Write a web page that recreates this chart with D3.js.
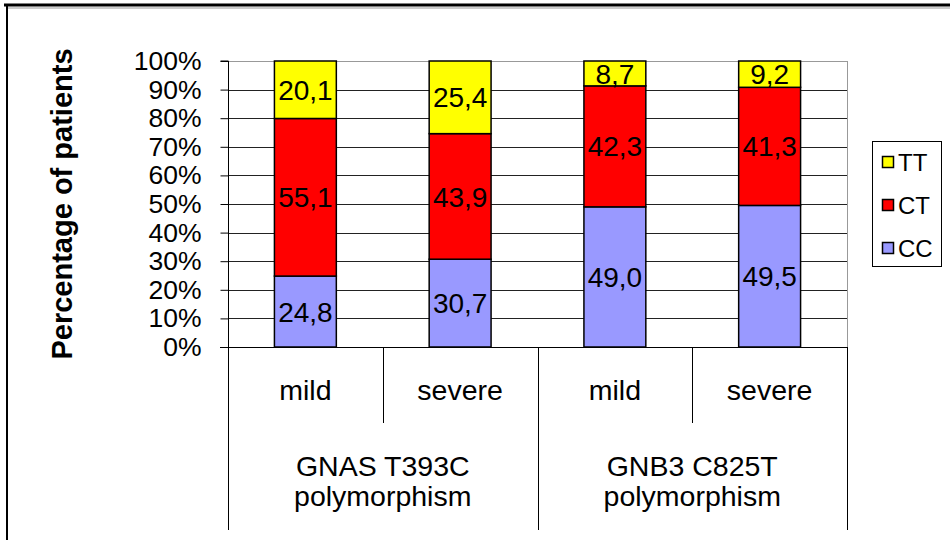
<!DOCTYPE html>
<html>
<head>
<meta charset="utf-8">
<script src="https://cdn.jsdelivr.net/npm/d3@7"></script>
<style>
  html, body { margin: 0; padding: 0; background: #fff; }
  svg { display: block; }
  text { font-family: "Liberation Sans", Arial, sans-serif; fill: #000; }
</style>
</head>
<body>
<svg id="chart" width="950" height="540"></svg>
<script>
// ---- Data ----
const categories = ["GNAS mild", "GNAS severe", "GNB3 mild", "GNB3 severe"];
const subLabels = ["mild", "severe", "mild", "severe"];
const groups = [["GNAS T393C", "polymorphism"], ["GNB3 C825T", "polymorphism"]];
const seriesNames = ["CC", "CT", "TT"];
const ccValues = [24.8, 30.7, 49.0, 49.5];
const ctValues = [55.1, 43.9, 42.3, 41.3];
const ttValues = [20.1, 25.4, 8.7, 9.2];
const yTicks = [0, 10, 20, 30, 40, 50, 60, 70, 80, 90, 100];
const colors = { CC: "#9999FF", CT: "#FF0000", TT: "#FFFF00" };

const table = categories.map((c, i) => ({ cat: c, CC: ccValues[i], CT: ctValues[i], TT: ttValues[i] }));

const svg = d3.select("#chart");
const L = 228, R = 847, T = 61, B = 347;

// frame
svg.append("line").attr("x1", 4).attr("x2", 950).attr("y1", 5).attr("y2", 5).attr("stroke", "#000").attr("stroke-width", 3);
svg.append("line").attr("x1", 7).attr("x2", 950).attr("y1", 8).attr("y2", 8).attr("stroke", "#999").attr("stroke-width", 1);
svg.append("line").attr("x1", 7).attr("x2", 7).attr("y1", 5).attr("y2", 540).attr("stroke", "#000").attr("stroke-width", 2);

const x = d3.scaleBand().domain(categories).range([L, R]).paddingInner(0.6).paddingOuter(0.3);
const y = d3.scaleLinear().domain([0, 100]).range([B, T]);

// gridlines
svg.append("g").selectAll("line").data(yTicks.filter(t => t > 0 && t < 100)).join("line")
  .attr("x1", L).attr("x2", R).attr("y1", d => Math.round(y(d)) + 0.5).attr("y2", d => Math.round(y(d)) + 0.5)
  .attr("stroke", "#222").attr("stroke-width", 1);
// plot area border (top/right)
svg.append("line").attr("x1", L).attr("x2", R).attr("y1", T + 0.5).attr("y2", T + 0.5).attr("stroke", "#999");
svg.append("line").attr("x1", R + 0.5).attr("x2", R + 0.5).attr("y1", T).attr("y2", B).attr("stroke", "#999");

// stacked bars
const stack = d3.stack().keys(seriesNames)(table);
const gBars = svg.append("g");
stack.forEach(layer => {
  const key = layer.key;
  gBars.append("g").selectAll("rect").data(layer).join("rect")
    .attr("x", d => x(d.data.cat))
    .attr("width", x.bandwidth())
    .attr("y", d => y(d[1]))
    .attr("height", d => y(d[0]) - y(d[1]))
    .attr("fill", colors[key])
    .attr("stroke", "#000").attr("stroke-width", 1.5);
  gBars.append("g").selectAll("text").data(layer).join("text")
    .attr("x", d => x(d.data.cat) + x.bandwidth() / 2)
    .attr("y", d => (y(d[0]) + y(d[1])) / 2)
    .attr("dy", "0.36em")
    .attr("text-anchor", "middle")
    .attr("font-size", 28)
    .text(d => (d[1] - d[0]).toFixed(1).replace(".", ","));
});

// y axis
const yAxis = d3.axisLeft(y).tickValues(yTicks).tickSize(8).tickPadding(19).tickFormat(d => d + "%");
const gy = svg.append("g").attr("transform", `translate(${L + 0.5},0)`).call(yAxis);
gy.select(".domain").attr("stroke", "#000").attr("d", `M-8,${T}H0V${B}`);
gy.selectAll(".tick line").attr("stroke", "#000");
gy.selectAll(".tick text").attr("font-size", 26.5).attr("font-family", "Liberation Sans, Arial, sans-serif").attr("fill", "#000");

// x axis line and separators
svg.append("line").attr("x1", L - 8).attr("x2", R).attr("y1", B + 0.5).attr("y2", B + 0.5).attr("stroke", "#000");
const step = x.step();
const seps = [0, 1, 2, 3, 4].map(i => ({ xp: L + i * step, long: i % 2 === 0 }));
svg.append("g").selectAll("line").data(seps).join("line")
  .attr("x1", d => Math.round(d.xp) + 0.5).attr("x2", d => Math.round(d.xp) + 0.5)
  .attr("y1", B).attr("y2", d => d.long ? 530 : 423)
  .attr("stroke", "#000");

// sub labels
svg.append("g").selectAll("text").data(categories).join("text")
  .attr("x", d => x(d) + x.bandwidth() / 2)
  .attr("y", 390).attr("dy", "0.36em")
  .attr("text-anchor", "middle").attr("font-size", 28.5)
  .text((d, i) => subLabels[i]);

// group labels
groups.forEach((g, i) => {
  const cx = L + step * (2 * i + 1);
  g.forEach((line, j) => {
    svg.append("text").attr("x", cx).attr("y", 476 + j * 30)
      .attr("text-anchor", "middle").attr("font-size", 28.5).text(line);
  });
});

// y title
svg.append("text")
  .attr("transform", `translate(62,${(T + B) / 2}) rotate(-90)`)
  .attr("dy", "0.36em")
  .attr("text-anchor", "middle").attr("font-size", 29).attr("font-weight", "bold")
  .text("Percentage of patients");

// legend
const lg = svg.append("g");
lg.append("rect").attr("x", 872.5).attr("y", 141.5).attr("width", 69).attr("height", 125)
  .attr("fill", "#fff").attr("stroke", "#000");
const legendOrder = ["TT", "CT", "CC"];
const legendY = d3.scalePoint().domain(legendOrder).range([162, 248]);
legendOrder.forEach(k => {
  lg.append("rect").attr("x", 882.5).attr("y", legendY(k) - 5.5).attr("width", 11).attr("height", 11)
    .attr("fill", colors[k]).attr("stroke", "#000").attr("stroke-width", 1.5);
  lg.append("text").attr("x", 898).attr("y", legendY(k)).attr("dy", "0.36em")
    .attr("font-size", 24).text(k);
});
</script>
</body>
</html>
